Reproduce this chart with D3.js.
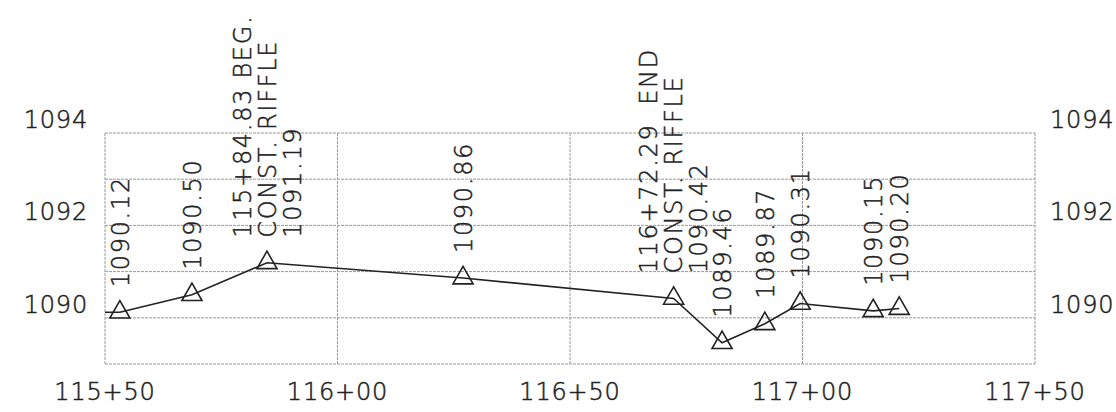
<!DOCTYPE html>
<html>
<head>
<meta charset="utf-8">
<script src="https://cdn.jsdelivr.net/npm/d3@7"></script>
<style>
  html, body { margin: 0; padding: 0; background: #fff; }
  svg { display: block; }
  text { font-family: "DejaVu Sans", sans-serif; font-weight: 200; font-size: 24px; fill: #222; stroke: #222; stroke-width: 0.5px; letter-spacing: 0.8px; white-space: pre; }
  text.note { letter-spacing: 1.7px; }
</style>
</head>
<body>
<svg id="chart" width="1116" height="412"></svg>
<script>
// ---- data ----
const stations   = [11553.2, 11568.7, 11584.83, 11627.0, 11672.29, 11682.7, 11691.9, 11699.5, 11715.2, 11720.8];
const elevations = [1090.12, 1090.50, 1091.19, 1090.86, 1090.42, 1089.46, 1089.87, 1090.31, 1090.15, 1090.20];
const notes      = [[], [], ["115+84.83 BEG.", "CONST. RIFFLE"], [], ["116+72.29  END", "CONST. RIFFLE"], [], [], [], [], []];
const xTicks     = [11550, 11600, 11650, 11700, 11750];
const yGrid      = [1089, 1090, 1091, 1092, 1093, 1094];
const yLabels    = [1090, 1092, 1094];

// ---- layout ----
const M = { left: 105, right: 1035, top: 133, bottom: 364 };
const svg = d3.select("#chart");

const x = d3.scaleLinear().domain([11550, 11750]).range([M.left, M.right]);
const y = d3.scaleLinear().domain([1089, 1094]).range([M.bottom, M.top]);
const fmtSta = v => Math.floor(v / 100) + "+" + String(Math.round(v % 100)).padStart(2, "0");

const gridStyle = g => g.attr("stroke", "#9a9a9a").attr("stroke-width", 1).attr("stroke-dasharray", "3,1").attr("fill", "none");

// horizontal grid
svg.append("g").selectAll("line").data(yGrid).join("line")
  .attr("x1", M.left).attr("x2", M.right)
  .attr("y1", d => y(d)).attr("y2", d => y(d))
  .call(gridStyle);

// vertical grid (all x ticks incl. frame edges)
svg.append("g").selectAll("line").data(xTicks).join("line")
  .attr("x1", d => x(d)).attr("x2", d => x(d))
  .attr("y1", M.top).attr("y2", M.bottom)
  .call(gridStyle);

// x axis labels
svg.append("g").selectAll("text").data(xTicks).join("text")
  .attr("x", d => x(d)).attr("y", 400)
  .attr("text-anchor", "middle")
  .text(fmtSta);

// y labels left and right
svg.append("g").selectAll("text").data(yLabels).join("text")
  .attr("x", 88).attr("y", d => y(d) - 5)
  .attr("text-anchor", "end")
  .text(d => d);
svg.append("g").selectAll("text").data(yLabels).join("text")
  .attr("x", 1050).attr("y", d => y(d) - 5)
  .attr("text-anchor", "start")
  .text(d => d);

// profile line (starts at the left frame edge at the first elevation)
const pts = stations.map((s, i) => ({ s, e: elevations[i], notes: notes[i] }));
const linePts = [{ s: x.domain()[0], e: elevations[0] }].concat(pts);
svg.append("path")
  .datum(linePts)
  .attr("fill", "none")
  .attr("stroke", "#222")
  .attr("stroke-width", 1.6)
  .attr("d", d3.line().x(d => x(d.s)).y(d => y(d.e)));

// triangle markers
const tri = d3.symbol().type(d3.symbolTriangle).size(175);
svg.append("g").selectAll("path").data(pts).join("path")
  .attr("transform", d => `translate(${x(d.s)},${y(d.e)})`)
  .attr("d", tri)
  .attr("fill", "none")
  .attr("stroke", "#222")
  .attr("stroke-width", 1.6);

// rotated labels
const lineGap = 25, capHalf = 8.75, lift = 25;
const lab = svg.append("g").selectAll("g").data(pts).join("g")
  .attr("transform", d => `translate(${x(d.s)},${y(d.e) - lift}) rotate(-90)`);
lab.each(function (d) {
  const lines = d.notes.concat([d.e.toFixed(2)]);
  const n = lines.length;
  d3.select(this).selectAll("text").data(lines).join("text")
    .attr("class", "note")
    .attr("x", 0)
    .attr("y", (t, i) => (i - (n - 1) / 2) * lineGap + capHalf)
    .attr("text-anchor", "start")
    .text(t => t);
});
</script>
</body>
</html>
